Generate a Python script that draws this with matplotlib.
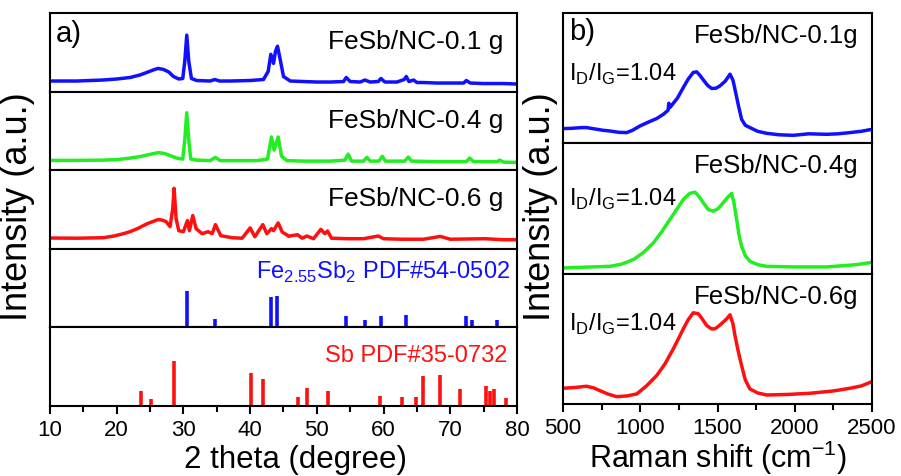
import matplotlib.pyplot as plt
import numpy as np

plt.rcParams['font.family'] = ['Liberation Sans', 'DejaVu Sans']
plt.rcParams['mathtext.fontset'] = 'custom'
plt.rcParams['mathtext.rm'] = 'Liberation Sans'

# XRD patterns (2 theta, intensity in arbitrary units)
xrd_01_x = [10, 12, 14, 16, 18, 20, 22, 23.5, 24.5, 25.5, 26.2, 27, 27.8, 28.5, 29.3, 29.9, 30.2,
            30.5, 30.8, 31.2, 32, 34, 34.7, 35.4, 37, 40, 42, 42.7, 43.1, 43.5, 43.8, 44.1, 44.5,
            45, 46, 48, 50, 52, 54, 54.4, 55, 56.5, 57.2, 58, 59.2, 59.6, 60.2, 62, 63.1, 63.4,
            63.8, 64.5, 65, 66, 68, 70, 72, 72.4, 73, 75, 78, 80]
xrd_01_y = [10.5, 10.5, 10.5, 11, 11.5, 12.5, 14, 16.5, 19, 21.5, 23, 22, 19.5, 15, 12.5, 13, 30,
            56, 30, 13, 11, 10.5, 12, 10.5, 10.5, 11, 12, 20, 37, 28, 40, 45, 32,
            15, 10.5, 10, 9.5, 9.5, 10, 14, 10, 9.5, 11.5, 9.5, 10, 13, 9.5, 9.5, 12, 15,
            10, 11.5, 9, 9, 8.5, 8.5, 8.5, 11, 8.5, 8, 8, 7.5]

xrd_04_x = [10, 14, 18, 20, 22, 23.5, 24.5, 25.5, 26.3, 27.2, 28.2, 29, 29.9, 30.2, 30.5, 30.8,
            31.1, 32, 34, 34.8, 35.5, 38, 41, 42.6, 43.2, 43.6, 44.2, 44.7, 45.5, 48, 52, 54.2,
            54.7, 55.2, 57, 57.5, 58, 59.3, 59.8, 60.3, 63.2, 63.7, 64.2, 68, 72.4, 72.9, 73.5,
            77, 77.4, 78, 80]
xrd_04_y = [9.7, 9.7, 10, 10.5, 12, 13.5, 15, 16.5, 17.5, 16.5, 14, 12, 11, 30, 57, 30,
            11, 10, 9.5, 12.7, 9.5, 9.5, 9.5, 11, 33, 20, 33, 14, 9.5, 9, 9, 10,
            16, 9, 9, 12.7, 9, 9, 13.7, 9, 9, 13, 9, 8.5, 8.5, 12, 8.5,
            8.5, 10, 8, 7.7]

xrd_06_x = [10, 14, 18, 19.6, 21, 22, 23.1, 24, 24.6, 25.4, 26.2, 26.8, 27.4, 28, 28.4, 28.6,
            28.9, 29.3, 30.0, 30.6, 30.9, 31.4, 31.9, 32.8, 33.7, 34.3, 34.8, 35.6, 37.3, 38.8,
            40.0, 40.7, 41.9, 42.5, 43.2, 43.5, 44.2, 44.8, 45.8, 47.1, 47.8, 48.5, 49.5, 50.6,
            51.2, 51.6, 52.2, 54.7, 57, 59.2, 60, 62.7, 66, 68.5, 70, 75.2, 78, 80]
xrd_06_y = [10.7, 10.5, 11, 12.7, 15, 17, 20, 23, 25, 27, 29, 28.5, 27, 22, 40, 60,
            30, 18, 17, 28, 18, 33, 20, 15, 17, 15, 24, 13, 11, 10.5,
            20.7, 12, 24, 15, 20, 18, 25.7, 16.7, 12.5, 14, 10.5, 12.7, 10, 19.3,
            15, 17.7, 10.5, 10, 10, 12.7, 10, 9.5, 9.5, 12.3, 9.5, 10, 9, 9]

# reference patterns
fesb_pos = [30.5, 34.7, 43.1, 44.0, 54.4, 57.2, 59.6, 63.3, 72.4, 73.3, 77.0]
fesb_int = [36, 8, 30, 31, 11, 7, 11, 12, 11, 7, 7]
sb_pos = [23.7, 25.1, 28.6, 40.1, 42.0, 47.1, 48.5, 51.6, 59.4, 62.8, 64.9, 65.9, 68.5, 71.5,
          75.3, 75.9, 76.6, 78.4]
sb_int = [15, 7, 45, 33, 27, 9, 18, 15, 10, 9, 9, 30, 31, 17, 20, 15, 17, 8]

# Raman spectra
ram_01_x = [500, 560, 620, 653, 700, 760, 804, 860, 912, 950, 998, 1050, 1106, 1150, 1180, 1185,
            1192, 1240, 1279, 1310, 1343, 1365, 1385, 1408, 1435, 1462, 1490, 1516, 1550, 1581,
            1600, 1613, 1635, 1656, 1680, 1710, 1760, 1818, 1900, 1991, 2090, 2206, 2280, 2357,
            2430, 2500]
ram_01_y = [14.7, 15, 15.7, 15.7, 14.5, 13, 12.3, 11, 10.7, 13, 17.3, 21, 24.7, 29, 33, 40,
            35.7, 45, 55.7, 64, 70.7, 71.3, 68, 63.3, 58, 54.7, 55, 57.3, 62, 69,
            63, 54, 38, 24, 18, 15.7, 12, 10, 8.5, 8, 9.5, 9, 9.5, 10.7,
            12, 14]
ram_04_x = [500, 650, 804, 880, 955, 1020, 1085, 1140, 1192, 1240, 1279, 1320, 1354, 1380, 1408,
            1440, 1473, 1505, 1537, 1565, 1591, 1605, 1624, 1640, 1656, 1680, 1710, 1760, 1818,
            2000, 2206, 2400, 2500]
ram_04_y = [5.7, 6.5, 7.3, 9.5, 14, 21, 30.7, 42, 54, 65, 74, 80, 81.3, 77, 70.7,
            64, 62.3, 65, 70.7, 76, 80, 72, 54, 38, 27.3, 18, 12.3, 9, 7.3,
            6.7, 6.7, 9, 11.3]
ram_06_x = [500, 580, 653, 700, 739, 790, 847, 910, 977, 1040, 1106, 1160, 1214, 1250, 1279, 1310,
            1343, 1376, 1405, 1430, 1460, 1484, 1510, 1537, 1560, 1581, 1600, 1613, 1635, 1656,
            1680, 1710, 1760, 1818, 1950, 2098, 2250, 2357, 2430, 2500]
ram_06_y = [15.7, 16.5, 17.7, 16, 13.3, 10, 7.3, 8, 10, 18, 28.3, 40, 55, 66, 75, 84,
            91, 90, 84, 78.3, 75, 75, 78, 81.7, 85, 89, 80, 68.3, 52, 38.3,
            24, 15, 11, 9, 9.5, 10.7, 13, 15.7, 18, 22.3]

blue = '#1010ff'
green = '#22ee22'
red = '#ff1010'

W, H = 901, 477
fig = plt.figure(figsize=(W / 100, H / 100), dpi=100)


def add_ax(left, right, top, bottom):
    return fig.add_axes([left / W, 1 - bottom / H, (right - left) / W, (bottom - top) / H])


def style(ax, bottom_ticks=False):
    for s in ax.spines.values():
        s.set_linewidth(1.5)
    ax.set_yticks([])
    if not bottom_ticks:
        ax.set_xticks([])
        ax.tick_params(axis='x', which='both', bottom=False, labelbottom=False)


# ---- panel a ----
a_top, a_bot = 14, 407
hh = (a_bot - a_top) / 5
axa = [add_ax(50, 517, a_top + i * hh, a_top + (i + 1) * hh) for i in range(5)]

curves = [(xrd_01_x, xrd_01_y, blue, 'FeSb/NC-0.1 g'),
          (xrd_04_x, xrd_04_y, green, 'FeSb/NC-0.4 g'),
          (xrd_06_x, xrd_06_y, red, 'FeSb/NC-0.6 g')]
for ax, (x, y, c, lab) in zip(axa[:3], curves):
    ax.plot(x, y, color=c, lw=2.5)
    ax.set_xlim(10, 80)
    ax.set_ylim(0, 78)
    ax.text(0.97, 0.64, lab, transform=ax.transAxes, ha='right', va='center', fontsize=19)
    style(ax)

axa[0].text(0.012, 0.75, 'a)', transform=axa[0].transAxes, ha='left', va='center', fontsize=21)

axa[3].vlines(fesb_pos, 0, fesb_int, color=blue, lw=2.6)
axa[3].text(0.985, 0.71, r'Fe$_{\mathregular{2.55}}$Sb$_{\mathregular{2}}$ PDF#54-0502',
            transform=axa[3].transAxes, ha='right', va='center', fontsize=17, color=blue)
axa[4].vlines(sb_pos, 0, sb_int, color=red, lw=2.6)
axa[4].text(0.98, 0.65, 'Sb PDF#35-0732', transform=axa[4].transAxes, ha='right', va='center',
            fontsize=17, color=red)
for ax in axa[3:]:
    ax.set_xlim(10, 80)
    ax.set_ylim(0, 78)
style(axa[3])
style(axa[4], bottom_ticks=True)
axa[4].set_xticks(np.arange(10, 81, 10))
axa[4].set_xticks(np.arange(15, 80, 10), minor=True)
axa[4].tick_params(axis='x', which='major', length=6, width=1.5, labelsize=16, direction='out')
axa[4].tick_params(axis='x', which='minor', length=4, width=1.5, direction='out')
axa[4].set_xlabel('2 theta (degree)', fontsize=22.5, labelpad=0)
axa[4].xaxis.set_label_coords(0.525, -0.48)
fig.text(18 / W, 1 - 207 / H, 'Intensity (a.u.)', rotation=90, ha='center', va='center',
         fontsize=26)

# ---- panel b ----
b_top, b_bot = 14, 405
hb = (b_bot - b_top) / 3
axb = [add_ax(563, 872, b_top + i * hb, b_top + (i + 1) * hb) for i in range(3)]
raman = [(ram_01_x, ram_01_y, blue, 'FeSb/NC-0.1g', 0.54),
         (ram_04_x, ram_04_y, green, 'FeSb/NC-0.4g', 0.58),
         (ram_06_x, ram_06_y, red, 'FeSb/NC-0.6g', 0.62)]
for ax, (x, y, c, lab, ty) in zip(axb, raman):
    ax.plot(x, y, color=c, lw=2.5)
    ax.set_xlim(500, 2500)
    ax.set_ylim(0, 130)
    ax.text(0.955, 0.83, lab, transform=ax.transAxes, ha='right', va='center', fontsize=18.5)
    ax.text(0.02, ty, r'I$_{\mathregular{D}}$/I$_{\mathregular{G}}$=1.04', transform=ax.transAxes,
            ha='left', va='center', fontsize=17)
for ax in axb[:2]:
    style(ax)
axb[0].text(0.02, 0.86, 'b)', transform=axb[0].transAxes, ha='left', va='center', fontsize=21)
style(axb[2], bottom_ticks=True)
axb[2].set_xticks(np.arange(500, 2501, 500))
axb[2].set_xticks(np.arange(750, 2500, 500), minor=True)
axb[2].tick_params(axis='x', which='major', length=6, width=1.5, labelsize=16, direction='out')
axb[2].tick_params(axis='x', which='minor', length=4, width=1.5, direction='out')
axb[2].set_xlabel(r'Raman shift (cm$^{\mathregular{-1}}$)', fontsize=22, labelpad=0)
fig.text(540 / W, 1 - 207 / H, 'Intensity (a.u.)', rotation=90, ha='center', va='center',
         fontsize=26)

fig.savefig('out.png', dpi=100)
